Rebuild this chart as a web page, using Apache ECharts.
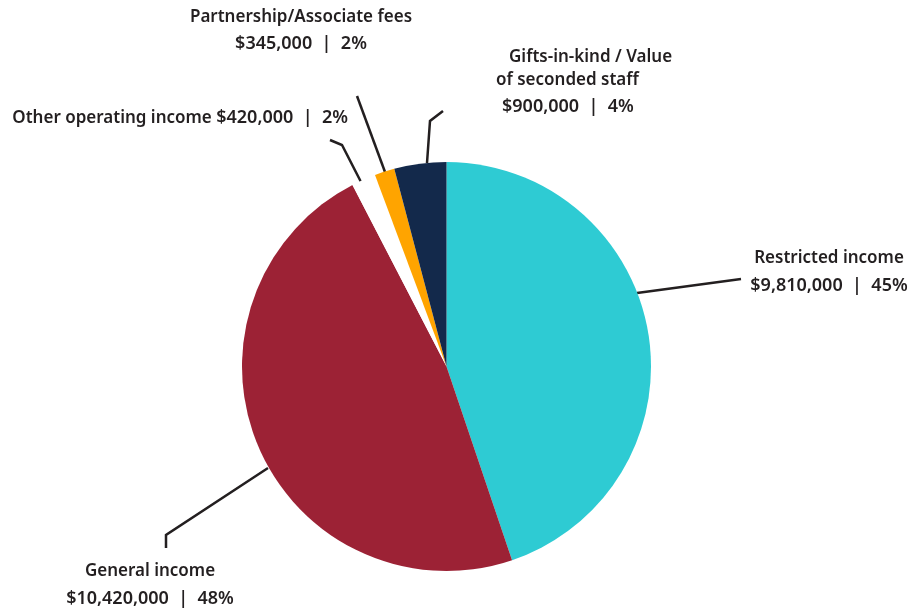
<!DOCTYPE html>
<html>
<head>
<meta charset="utf-8">
<script src="https://cdn.jsdelivr.net/npm/echarts@6/dist/echarts.min.js"></script>
<style>
  html, body { margin: 0; padding: 0; background: #fff; }
  #chart { width: 913px; height: 611px; }
</style>
</head>
<body>
<div id="chart"></div>
<script>
const names = ['Restricted income', 'General income', 'Other operating income', 'Partnership/Associate fees', 'Gifts-in-kind / Value of seconded staff']
const values = [9810000, 10420000, 420000, 345000, 900000]
const percents = [45, 48, 2, 2, 4]
const colors = ['#2ecbd3', '#9c2235', '#ffffff', '#ffa400', '#13294b']

// label anchors (middle of the text block) and leader lines, by slice
const labelPos = [
  { x: 829, y: 272, align: 'center' },
  { x: 150, y: 585, align: 'center' },
  { x: 348, y: 118, align: 'right' },
  { x: 301, y: 30.5, align: 'center' },
  { x: 496, y: 83.5, align: 'left' }
]
const leaderLines = [
  [[637, 293], [741, 279]],
  [[268, 468], [166, 535], [166, 548]],
  [[361, 182], [342, 145], [330, 140]],
  [[385, 172], [357, 96]],
  [[427, 163], [430, 121], [443, 111]]
]

const money = v => '$' + v.toLocaleString('en-US')

const formatLabel = p => {
  const i = p.dataIndex
  const amount = money(values[i]) + '  |  ' + percents[i] + '%'
  if (i === 2) return '{n|' + names[i] + '} {v|' + amount + '}'
  if (i === 4) return '{a|Gifts-in-kind / Value}\n{b|of seconded staff}\n{c|' + amount + '}'
  return '{n|' + names[i] + '}\n{v|' + amount + '}'
}

const font = { fontFamily: 'Noto Sans', fontWeight: 600, fontSize: 17, color: '#231f20' }
const numFont = { ...font, fontSize: 18 }

const chart = echarts.init(document.getElementById('chart'))
chart.setOption({
  animation: false,
  series: [
    {
      type: 'pie',
      center: [446.5, 366.5],
      radius: [0, 204.5],
      startAngle: 90,
      clockwise: true,
      silent: true,
      emphasis: { disabled: true },
      itemStyle: { borderWidth: 0 },
      label: {
        show: true,
        position: 'outside',
        formatter: formatLabel,
        ...font,
        lineHeight: 27,
        overflow: 'none',
        rich: {
          n: { ...font, lineHeight: 27 },
          v: { ...numFont, lineHeight: 27 },
          a: { ...font, lineHeight: 23, padding: [0, 0, 0, 13] },
          b: { ...font, lineHeight: 23 },
          c: { ...numFont, lineHeight: 30, padding: [0, 0, 0, 6] }
        }
      },
      labelLine: {
        show: true,
        lineStyle: { color: '#231f20', width: 2.5 }
      },
      labelLayout: params => {
        const i = params.dataIndex
        const pos = labelPos[i]
        return {
          x: pos.x,
          y: pos.y,
          align: pos.align,
          verticalAlign: 'middle',
          hideOverlap: false,
          moveOverlap: null,
          labelLinePoints: leaderLines[i]
        }
      },
      data: names.map((n, i) => ({ name: n, value: values[i], itemStyle: { color: colors[i] } }))
    }
  ]
})
</script>
</body>
</html>
